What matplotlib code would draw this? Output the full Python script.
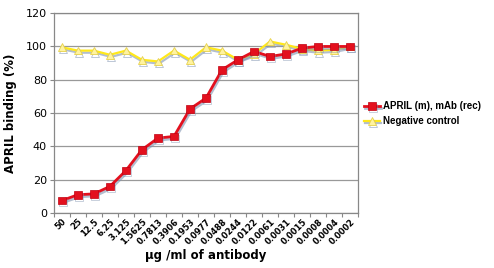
import numpy as np
import matplotlib.pyplot as plt
import matplotlib.patheffects as pe
from matplotlib import font_manager

# concentration of antibody (ug/ml)
concentrations = ["50", "25", "12.5", "6.25", "3.125", "1.5625", "0.7813", "0.3906",
                  "0.1953", "0.0977", "0.0488", "0.0244", "0.0122", "0.0061",
                  "0.0031", "0.0015", "0.0008", "0.0004", "0.0002"]

# APRIL binding (%)
april_mab = [7.5, 11, 11.5, 16, 25.5, 38, 45, 46, 62.5, 69, 86, 92, 97, 94,
             95.5, 99, 100, 100, 100]
neg_control = [99.5, 97.5, 97.5, 95, 97.5, 92, 91, 97.5, 92, 99.5, 97.5, 92,
               95.5, 103, 101, 98.5, 97.5, 98, 100]

names = {f.name for f in font_manager.fontManager.ttflist}
narrow = 'Liberation Sans Narrow' if 'Liberation Sans Narrow' in names else 'Liberation Sans'

fig = plt.figure(figsize=(4.94, 2.68), dpi=100)
ax = fig.add_axes([0.109, 0.205, 0.616, 0.746])

x = np.arange(len(concentrations))
shadow = [pe.SimpleLineShadow(offset=(0.8, -1.5), shadow_color='#7f93b0', alpha=0.6),
          pe.Normal()]

ax.plot(x, neg_control, color='#ffe81a', lw=1.6, marker='^', ms=5.5,
        mfc='#fff3a0', mec='#e8d24a', mew=0.6, label='Negative control',
        path_effects=shadow, zorder=3)
ax.plot(x, april_mab, color='#e3101e', lw=2.0, marker='s', ms=5.5,
        mfc='#e3101e', mec='#c00010', mew=0.5, label='APRIL (m), mAb (rec)',
        path_effects=shadow, zorder=4)

ax.set_xlim(-0.5, len(concentrations) - 0.5)
ax.set_ylim(0, 120)
ax.set_yticks(np.arange(0, 121, 20))
ax.set_xticks(np.arange(-0.5, len(concentrations), 1.0))
ax.set_xticklabels([])
ax.set_xticks(x, minor=True)
ax.set_xticklabels(concentrations, minor=True, rotation=45, ha='right',
                   rotation_mode='anchor', fontsize=6, fontweight='bold')
ax.tick_params(axis='x', which='minor', length=0, pad=3)
ax.tick_params(axis='x', which='major', length=3, color='#888888')
ax.tick_params(axis='y', length=3, color='#888888', labelsize=8, pad=2)

ax.yaxis.grid(True, color='#999999', lw=0.9)
ax.set_axisbelow(True)
for s in ax.spines.values():
    s.set_color('#888888')
    s.set_linewidth(0.9)

ax.set_ylabel('APRIL binding (%)', fontsize=8.5, fontweight='bold', labelpad=6)
ax.set_xlabel('\u00b5g /ml of antibody', fontsize=8.5, fontweight='bold', labelpad=2)

handles, labels = ax.get_legend_handles_labels()
fig.legend(handles[::-1], labels[::-1], loc='center left',
           bbox_to_anchor=(0.728, 0.575), frameon=False,
           handlelength=1.7, handletextpad=0.3, labelspacing=0.5,
           borderpad=0.2, borderaxespad=0.2,
           prop={'family': [narrow, 'DejaVu Sans'], 'weight': 'bold', 'size': 7})

fig.savefig('out.png', dpi=100)
